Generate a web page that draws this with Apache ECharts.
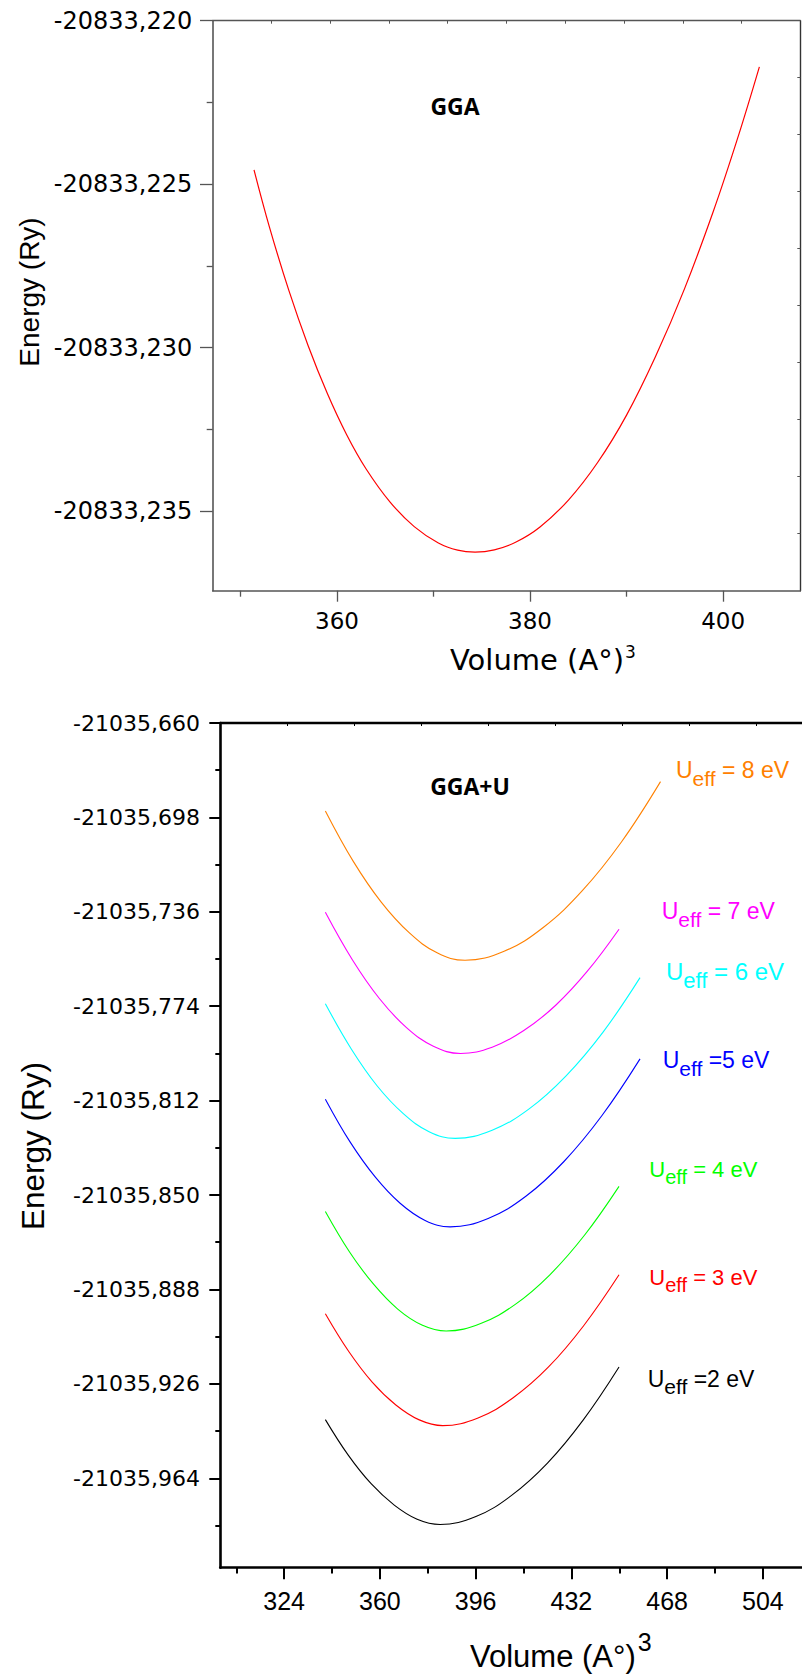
<!DOCTYPE html>
<html>
<head>
<meta charset="utf-8">
<script src="https://cdn.jsdelivr.net/npm/echarts@6/dist/echarts.min.js"></script>
<style>
html,body{margin:0;padding:0;background:#ffffff;}
#chart{width:802px;height:1676px;}
</style>
</head>
<body>
<div id="chart"></div>
<script>
// ================= GGA panel (top) =================
const ggaVolume = [351.4, 353.0, 355.0, 357.0, 359.0, 361.0, 363.0, 365.5, 368.0, 370.5, 372.5, 374.3,
                   376.3, 378.5, 381.0, 384.0, 387.0, 390.0, 393.0, 396.0, 399.0, 401.5, 403.76];
const ggaEnergy = [-20833.22456, -20833.22631, -20833.22824, -20833.22993, -20833.23140, -20833.23266,
                   -20833.23370, -20833.23472, -20833.23547, -20833.23597, -20833.23619, -20833.23625,
                   -20833.23618, -20833.23595, -20833.23549, -20833.23465, -20833.23351, -20833.23206,
                   -20833.23027, -20833.22820, -20833.22582, -20833.22360, -20833.22141];
const ggaXTicks = [360, 380, 400];
const ggaXMinorTicks = [350, 370, 390];
const ggaYTicks = [-20833.220, -20833.225, -20833.230, -20833.235];
const ggaYMinorTicks = [-20833.2225, -20833.2275, -20833.2325];
const ggaXRange = [347.12, 408.0];
const ggaYRange = [-20833.23743, -20833.220];

// ================= GGA+U panel (bottom) =================
const uXTicks = [324, 360, 396, 432, 468, 504];
const uXMinorTicks = [306, 342, 378, 414, 450, 486, 522];
const uYTicks = [-21035.660, -21035.698, -21035.736, -21035.774, -21035.812,
                 -21035.850, -21035.888, -21035.926, -21035.964];
const uYMinorTicks = [-21035.679, -21035.717, -21035.755, -21035.793, -21035.831,
                      -21035.869, -21035.907, -21035.945, -21035.983];
const uXRange = [300, 552];
const uYRange = [-21036.000, -21035.660];

const u8Volume = [339.5, 350.0, 360.5, 371.0, 381.5, 392.0, 406.7, 421.4, 436.1, 450.8, 465.5];
const u8Energy = [-21035.6954, -21035.7157, -21035.7321, -21035.7444, -21035.7525, -21035.7555,
                  -21035.7519, -21035.7423, -21035.7275, -21035.7079, -21035.6836];

const u7Volume = [339.5, 349.7, 359.8, 370.0, 380.1, 390.3, 402.2, 414.1, 426.1, 438.0, 449.9];
const u7Energy = [-21035.7362, -21035.7554, -21035.7709, -21035.7826, -21035.7901, -21035.7930,
                  -21035.7905, -21035.7838, -21035.7736, -21035.7599, -21035.7430];

const u6Volume = [339.5, 349.3, 359.0, 368.8, 378.5, 388.3, 402.2, 416.1, 430.0, 443.9, 457.8];
const u6Energy = [-21035.7730, -21035.7913, -21035.8061, -21035.8172, -21035.8245, -21035.8272,
                  -21035.8239, -21035.8153, -21035.8020, -21035.7844, -21035.7625];

const u5Volume = [339.5, 348.9, 358.3, 367.6, 377.0, 386.4, 400.7, 415.0, 429.2, 443.5, 457.8];
const u5Energy = [-21035.8114, -21035.8288, -21035.8428, -21035.8533, -21035.8602, -21035.8628,
                  -21035.8594, -21035.8504, -21035.8365, -21035.8180, -21035.7952];

const u4Volume = [339.5, 348.6, 357.7, 366.7, 375.8, 384.9, 397.9, 410.9, 423.9, 436.9, 449.9];
const u4Energy = [-21035.8566, -21035.8729, -21035.8860, -21035.8959, -21035.9023, -21035.9047,
                  -21035.9017, -21035.8940, -21035.8821, -21035.8662, -21035.8465];

const u3Volume = [339.5, 348.3, 357.1, 366.0, 374.8, 383.6, 396.9, 410.1, 423.4, 436.6, 449.9];
const u3Energy = [-21035.8978, -21035.9130, -21035.9253, -21035.9345, -21035.9405, -21035.9428,
                  -21035.9397, -21035.9316, -21035.9192, -21035.9026, -21035.8821];

const u2Volume = [339.5, 348.1, 356.7, 365.4, 374.0, 382.6, 396.1, 409.5, 423.0, 436.4, 449.9];
const u2Energy = [-21035.9404, -21035.9547, -21035.9662, -21035.9748, -21035.9805, -21035.9826,
                  -21035.9794, -21035.9709, -21035.9579, -21035.9406, -21035.9192];

const uSeriesNames = ['8 eV', '7 eV', '6 eV', '5 eV', '4 eV', '3 eV', '2 eV'];
const uColors = ['#ff8000', '#ff00ff', '#00ffff', '#0000ff', '#00ff00', '#ff0000', '#000000'];
const uVolumes = [u8Volume, u7Volume, u6Volume, u5Volume, u4Volume, u3Volume, u2Volume];
const uEnergies = [u8Energy, u7Energy, u6Energy, u5Energy, u4Energy, u3Energy, u2Energy];
const uLabelTail = [' = 8 eV', ' = 7 eV', ' = 6 eV', ' =5 eV', ' = 4 eV', ' = 3 eV', ' =2 eV'];

// ---------------- helpers ----------------
const zip = (xs, ys) => xs.map((x, i) => [x, ys[i]]);
const tenths = (r) => [1,2,3,4,5,6,7,8,9].map(k => r[0] + k * (r[1] - r[0]) / 10);
const commaFmt = v => v.toFixed(3).replace('.', ',');

const GRAY = '#555555';
const BLACK = '#000000';

const chart = echarts.init(document.getElementById('chart'), null, {renderer: 'svg'});

const grids = [
  {left: 212.7, top: 20.7, width: 587.6, height: 570, containLabel: false, outerBoundsMode: 'none'},
  {left: 220.3, top: 723, width: 670.3, height: 844.7, containLabel: false, outerBoundsMode: 'none'}
];

const xAxes = [
  {gridIndex: 0, type: 'value', position: 'bottom', min: ggaXRange[0], max: ggaXRange[1],
   axisLine: {show: true, onZero: false, lineStyle: {color: GRAY, width: 1.6}},
   axisTick: {show: true, length: 11, customValues: ggaXTicks, lineStyle: {color: GRAY, width: 1.3}},
   axisLabel: {show: true, customValues: ggaXTicks, margin: 19, color: '#000',
               fontFamily: 'DejaVu Sans', fontSize: 23},
   splitLine: {show: false}},
  {gridIndex: 0, type: 'value', position: 'bottom', min: ggaXRange[0], max: ggaXRange[1],
   axisLine: {show: false, onZero: false},
   axisTick: {show: true, length: 6, customValues: ggaXMinorTicks, lineStyle: {color: GRAY, width: 1.3}},
   axisLabel: {show: false}, splitLine: {show: false}},
  {gridIndex: 0, type: 'value', position: 'top', min: ggaXRange[0], max: ggaXRange[1],
   axisLine: {show: true, onZero: false, lineStyle: {color: GRAY, width: 1.4}},
   axisTick: {show: true, inside: true, length: 3, customValues: tenths(ggaXRange), lineStyle: {color: GRAY, width: 1}},
   axisLabel: {show: false}, splitLine: {show: false}},
  {gridIndex: 1, type: 'value', position: 'bottom', min: uXRange[0], max: uXRange[1],
   axisLine: {show: true, onZero: false, lineStyle: {color: BLACK, width: 2.6}},
   axisTick: {show: true, length: 11.5, customValues: uXTicks, lineStyle: {color: BLACK, width: 2}},
   axisLabel: {show: true, customValues: uXTicks, margin: 21, color: '#000',
               fontFamily: 'Liberation Sans', fontSize: 25},
   splitLine: {show: false}},
  {gridIndex: 1, type: 'value', position: 'bottom', min: uXRange[0], max: uXRange[1],
   axisLine: {show: false, onZero: false},
   axisTick: {show: true, length: 5.7, customValues: uXMinorTicks, lineStyle: {color: BLACK, width: 2}},
   axisLabel: {show: false}, splitLine: {show: false}},
  {gridIndex: 1, type: 'value', position: 'top', min: uXRange[0], max: uXRange[1],
   axisLine: {show: true, onZero: false, lineStyle: {color: BLACK, width: 2.4}},
   axisTick: {show: true, inside: true, length: 3, customValues: tenths(uXRange), lineStyle: {color: BLACK, width: 1}},
   axisLabel: {show: false}, splitLine: {show: false}}
];

const yAxes = [
  {gridIndex: 0, type: 'value', position: 'left', min: ggaYRange[0], max: ggaYRange[1],
   axisLine: {show: true, onZero: false, lineStyle: {color: GRAY, width: 1.6}},
   axisTick: {show: true, length: 12.7, customValues: ggaYTicks, lineStyle: {color: GRAY, width: 1.3}},
   axisLabel: {show: true, customValues: ggaYTicks, margin: 20.5, color: '#000',
               fontFamily: 'DejaVu Sans', fontSize: 24, formatter: commaFmt},
   splitLine: {show: false}},
  {gridIndex: 0, type: 'value', position: 'left', min: ggaYRange[0], max: ggaYRange[1],
   axisLine: {show: false, onZero: false},
   axisTick: {show: true, length: 6, customValues: ggaYMinorTicks, lineStyle: {color: GRAY, width: 1.3}},
   axisLabel: {show: false}, splitLine: {show: false}},
  {gridIndex: 0, type: 'value', position: 'right', min: ggaYRange[0], max: ggaYRange[1],
   axisLine: {show: true, onZero: false, lineStyle: {color: '#333', width: 1.4}},
   axisTick: {show: true, inside: true, length: 3, customValues: tenths(ggaYRange), lineStyle: {color: GRAY, width: 1}},
   axisLabel: {show: false}, splitLine: {show: false}},
  {gridIndex: 1, type: 'value', position: 'left', min: uYRange[0], max: uYRange[1],
   axisLine: {show: true, onZero: false, lineStyle: {color: BLACK, width: 2.6}},
   axisTick: {show: true, length: 11, customValues: uYTicks, lineStyle: {color: BLACK, width: 2}},
   axisLabel: {show: true, customValues: uYTicks, margin: 20.3, color: '#000',
               fontFamily: 'DejaVu Sans', fontSize: 22, formatter: commaFmt},
   splitLine: {show: false}},
  {gridIndex: 1, type: 'value', position: 'left', min: uYRange[0], max: uYRange[1],
   axisLine: {show: false, onZero: false},
   axisTick: {show: true, length: 5, customValues: uYMinorTicks, lineStyle: {color: BLACK, width: 2}},
   axisLabel: {show: false}, splitLine: {show: false}}
];

const series = [
  {name: 'GGA', type: 'line', xAxisIndex: 0, yAxisIndex: 0, data: zip(ggaVolume, ggaEnergy),
   smooth: 0.4, showSymbol: false, symbol: 'none', lineStyle: {color: '#ff0000', width: 1.2}, silent: true}
];
uVolumes.forEach((vols, i) => {
  series.push({name: 'Ueff = ' + uSeriesNames[i], type: 'line', xAxisIndex: 3, yAxisIndex: 3,
    data: zip(vols, uEnergies[i]), smooth: 0.4, showSymbol: false, symbol: 'none',
    lineStyle: {color: uColors[i], width: 1.1}, silent: true});
});

const uLabelPos = [[676, 770.3, 23], [661.7, 911.3, 23], [666, 971.7, 24], [662.7, 1060.3, 23],
                   [649.3, 1169.1, 22], [649.3, 1277.4, 22], [647.7, 1378.7, 23]];

const graphics = [
  {type: 'text', x: 455, y: 105.5, silent: true,
   style: {text: 'GGA', fill: '#000', font: 'bold 23px "Open Sans"', align: 'center', verticalAlign: 'middle'}},
  {type: 'text', x: 470, y: 785.5, silent: true,
   style: {text: 'GGA+U', fill: '#000', font: 'bold 23px "Open Sans"', align: 'center', verticalAlign: 'middle'}},
  {type: 'text', x: 29, y: 292, rotation: Math.PI / 2, silent: true,
   style: {text: 'Energy (Ry)', fill: '#000', font: '28px "Liberation Sans"', align: 'center', verticalAlign: 'middle'}},
  {type: 'text', x: 33, y: 1146, rotation: Math.PI / 2, silent: true,
   style: {text: 'Energy (Ry)', fill: '#000', font: '31.5px "Liberation Sans"', align: 'center', verticalAlign: 'middle'}},
  {type: 'text', x: 450, y: 660, silent: true,
   style: {text: '{m|Volume (A\u00B0)}{s|3}', fill: '#000', align: 'left', verticalAlign: 'middle',
     rich: {m: {fontFamily: 'DejaVu Sans', fontSize: 29, fill: '#000'},
            s: {fontFamily: 'DejaVu Sans', fontSize: 17, fill: '#000', padding: [0, 0, 16, 1]}}}},
  {type: 'text', x: 470, y: 1656, silent: true,
   style: {text: '{m|Volume (A\u00B0)}{s|3}', fill: '#000', align: 'left', verticalAlign: 'middle',
     rich: {m: {fontFamily: 'Liberation Sans', fontSize: 31, fill: '#000'},
            s: {fontFamily: 'Liberation Sans', fontSize: 25, fill: '#000', padding: [0, 0, 29, 2]}}}}
];
uLabelTail.forEach((tail, i) => {
  const p = uLabelPos[i];
  const fs = p[2];
  const sfs = fs - 2;
  graphics.push({type: 'text', x: p[0], y: p[1], silent: true,
    style: {text: '{m|U}{s|eff}{m|' + tail + '}', fill: uColors[i], align: 'left', verticalAlign: 'middle',
      rich: {m: {fontFamily: 'Liberation Sans', fontSize: fs, fill: uColors[i]},
             s: {fontFamily: 'Liberation Sans', fontSize: sfs, fill: uColors[i], padding: [Math.round(fs * 0.7), 0, 0, 0]}}}});
});

chart.setOption({
  animation: false,
  backgroundColor: '#ffffff',
  grid: grids,
  xAxis: xAxes,
  yAxis: yAxes,
  series: series,
  graphic: {elements: graphics}
});
</script>
</body>
</html>
